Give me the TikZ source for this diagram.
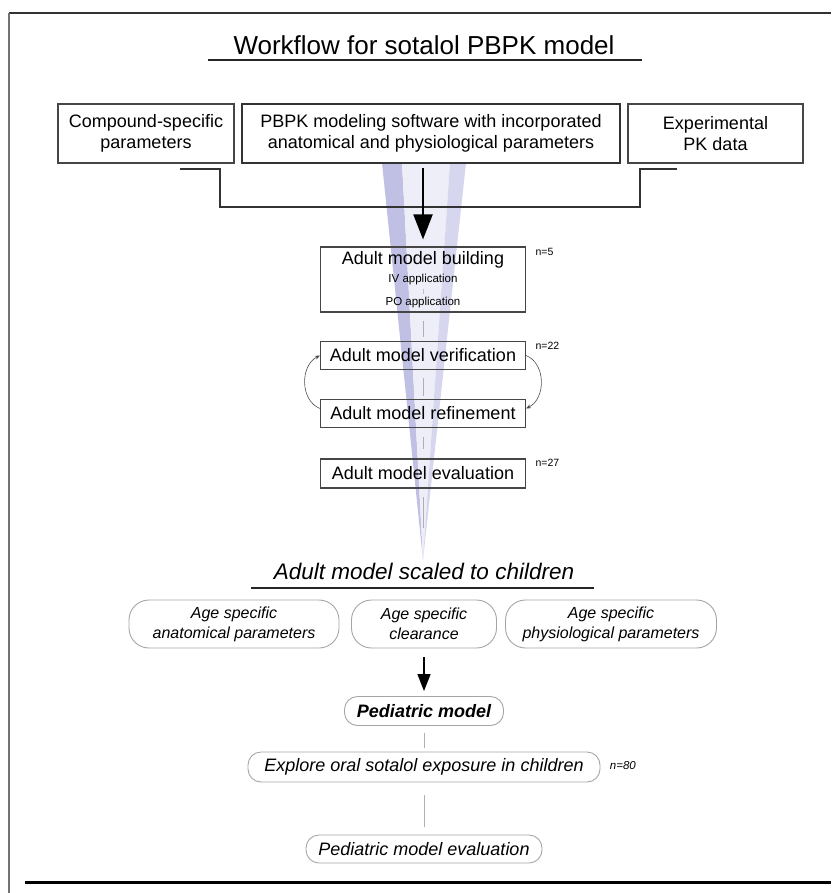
\documentclass[tikz,border=0pt]{standalone}
\usepackage{fontspec}
\setmainfont{Liberation Sans}
\usetikzlibrary{arrows.meta}

\definecolor{conedark}{RGB}{192,192,228}
\definecolor{conemid}{RGB}{238,238,248}
\definecolor{coneright}{RGB}{214,214,238}
\definecolor{boxgray}{RGB}{70,70,70}
\definecolor{pillgray}{RGB}{165,165,165}
\definecolor{linkgray}{RGB}{175,175,175}

\begin{document}
\begin{tikzpicture}[x=1pt,y=-1pt,
	topbox/.style={draw=boxgray, line width=1.2pt, minimum height=59pt, align=center, font=\fontsize{18}{21}\selectfont},
	adultbox/.style={draw=boxgray, line width=1.1pt, minimum width=205pt, minimum height=28pt, font=\fontsize{18}{21}\selectfont},
	pill/.style={draw=pillgray, line width=0.9pt, rounded corners=20pt, align=center, font=\fontsize{16}{20}\itshape\selectfont},
	countlabel/.style={anchor=west, font=\fontsize{10.5}{12}\selectfont},
	link/.style={draw=linkgray, line width=1pt},
	cyclearrow/.style={draw=black!70, line width=0.6pt, -{Stealth[length=5pt,width=4pt]}}]
	\useasboundingbox (0,0) rectangle (831,893);
	
	% frame
	\draw[line width=2pt, black!80] (9,13) -- (831,13);
	\draw[line width=1.4pt, black!55] (9,13) -- (9,893);
	\draw[line width=3pt] (25,882) -- (831,882);
	
	% blue cone behind the adult column
	\fill[conedark] (382,163) -- (402,163) -- (423,560) -- cycle;
	\fill[conemid] (402,163) -- (450,163) -- (423,560) -- cycle;
	\fill[coneright] (450,163) -- (466,163) -- (423,560) -- cycle;
	
	\node[anchor=base, font=\fontsize{26}{30}\selectfont] (title) at (424,55) {Workflow for sotalol PBPK model};
	\draw[line width=1.8pt, black!85] (208,60) -- (642,60);
	
	\node[topbox, minimum width=176pt] (comp) at (146,133.5) {Compound-specific\\parameters};
	\node[topbox, minimum width=378pt, line width=2pt, draw=black!80] (soft) at (431,133.5) {PBPK modeling software with incorporated\\anatomical and physiological parameters};
	\node[topbox, minimum width=175pt] (expdata) at (715.5,133.5) {Experimental\\PK data};
	
	% bracket under the three inputs
	\coordinate (brl) at (180,169);
	\coordinate (brr) at (677,169);
	\draw[line width=1.2pt, black!80] (brl) -- (220,169) |- (640,207) -- (640,169) -- (brr);
	
	\node[adultbox, minimum height=65pt] (build) at (423,279.5) {};
	\node[font=\fontsize{18}{21}\selectfont] (buildtxt) at (423,260) {Adult model building};
	\node[font=\fontsize{11.5}{13}\selectfont] (iv) at (423,280) {IV application};
	\node[font=\fontsize{11.5}{13}\selectfont] (po) at (423,303) {PO application};
	\draw[link, black!25] (iv) -- (po);
	\node[countlabel] at ([xshift=6pt,yshift=-5pt]build.north east) {n=5};
	
	\draw[line width=2pt, -{Triangle[length=25pt,width=19pt]}, shorten <=4pt, shorten >=7pt] (soft.south -| build.north) -- (build.north);
	
	\node[adultbox] (verif) at (423,355.5) {Adult model verification};
	\node[countlabel] at ([xshift=6pt,yshift=-5pt]verif.north east) {n=22};
	\node[adultbox] (refine) at (423,413.5) {Adult model refinement};
	\node[adultbox, minimum height=29pt] (evalu) at (423,473.5) {Adult model evaluation};
	\node[countlabel] at ([xshift=6pt,yshift=-4pt]evalu.north east) {n=27};
	
	\draw[link, shorten <=8pt, shorten >=4pt] (build) -- (verif);
	\draw[link, shorten <=8pt, shorten >=3pt] (verif) -- (refine);
	\draw[link, shorten <=9pt, shorten >=9pt] (refine) -- (evalu);
	\coordinate (coneend) at (423,528);
	\draw[link, shorten <=8pt] (evalu) -- (coneend);
	
	% refinement loop
	\draw[cyclearrow] ([yshift=5pt]refine.west) .. controls +(-20,-8) and +(-20,10) .. (verif.west);
	\draw[cyclearrow] (verif.east) .. controls +(20,8) and +(20,-10) .. ([yshift=5pt]refine.east);
	
	\node[anchor=base, font=\fontsize{22.5}{26}\itshape\selectfont] (scaled) at (424,579) {Adult model scaled to children};
	\draw[line width=1.8pt, black!85] (251,588) -- (594,588);
	
	\node[pill, minimum width=210pt, minimum height=48pt] (agea) at (234,624) {Age specific\\anatomical parameters};
	\node[pill, minimum width=145pt, minimum height=48pt] (agec) at (424,624) {Age specific\\clearance};
	\node[pill, minimum width=211pt, minimum height=48pt] (agep) at (611,624) {Age specific\\physiological parameters};
	
	\node[pill, rounded corners=13pt, minimum width=159pt, minimum height=29pt, font=\fontsize{18}{21}\bfseries\itshape\selectfont] (ped) at (424,711) {Pediatric model};
	\node[pill, rounded corners=13pt, minimum width=352pt, minimum height=30pt, font=\fontsize{18}{21}\itshape\selectfont] (explore) at (424,767) {Explore oral sotalol exposure in children};
	\node[countlabel, font=\fontsize{11.5}{13}\itshape\selectfont] at ([xshift=6pt,yshift=1pt]explore.east) {n=80};
	\node[pill, rounded corners=13pt, minimum width=236pt, minimum height=28pt, font=\fontsize{18}{21}\itshape\selectfont] (pevalu) at (424,849) {Pediatric model evaluation};
	
	\draw[line width=1.5pt, -{Triangle[length=17pt,width=13pt]}, shorten <=9pt, shorten >=5pt] (agec.south) -- (ped.north);
	\draw[link, shorten <=7pt, shorten >=4pt] (ped) -- (explore);
	\draw[link, shorten <=13pt, shorten >=8pt] (explore) -- (pevalu);
\end{tikzpicture}
\end{document}
